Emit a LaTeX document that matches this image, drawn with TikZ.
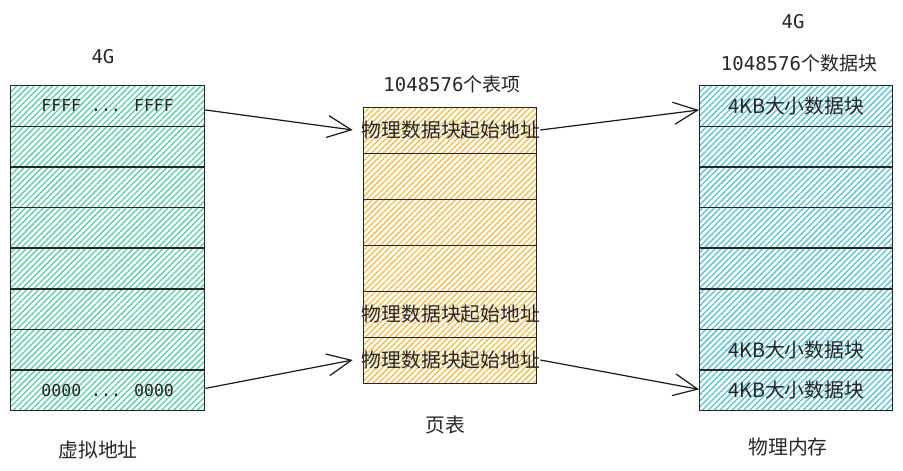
\documentclass[tikz,border=0pt]{standalone}
\usepackage{fontspec}
\setmainfont{DejaVu Sans Mono}
\newfontfamily\cjk{Noto Sans CJK SC}
\newfontfamily\mono{DejaVu Sans Mono}
\usetikzlibrary{patterns.meta,arrows.meta}
\definecolor{hgreen}{RGB}{90,205,168}
\definecolor{horange}{RGB}{247,188,72}
\definecolor{hcyan}{RGB}{85,193,212}
\tikzset{
  cell/.style={draw=black!85,line width=1.4pt,rectangle,inner sep=0pt,anchor=north west},
  lcell/.style={cell,minimum width=194pt,minimum height=40.6pt,pattern={Lines[angle=45,distance=4.2pt,line width=1.3pt]},pattern color=hgreen},
  mcell/.style={cell,minimum width=173pt,minimum height=46pt,pattern={Lines[angle=45,distance=4.2pt,line width=1.3pt]},pattern color=horange},
  rcell/.style={cell,minimum width=193pt,minimum height=40.6pt,pattern={Lines[angle=45,distance=4.2pt,line width=1.3pt]},pattern color=hcyan},
  lab/.style={inner sep=0pt,text=black!85,font=\fontsize{19}{22}\selectfont},
  cjklab/.style={inner sep=0pt,text=black!85,font=\fontsize{19.8}{23}\selectfont},
  hexlab/.style={inner sep=0pt,text=black!85,font=\fontsize{16.5}{20}\selectfont\mono},
  arr/.style={draw=black!90,line width=1.2pt,-{Straight Barb[length=24pt,width=22pt,line width=1.2pt]}}
}
\begin{document}
\begin{tikzpicture}[x=1pt,y=-1pt]
\useasboundingbox (0,0) rectangle (903,471);
% left column
\foreach \i in {1,...,8} {
  \node[lcell] (L\i) at (10,{85+(\i-1)*40.625}) {};
}
% middle column
\foreach \i in {1,...,6} {
  \node[mcell] (M\i) at (363,{107+(\i-1)*46}) {};
}
% right column
\foreach \i in {1,...,8} {
  \node[rcell] (R\i) at (699,{85+(\i-1)*40.625}) {};
}
% left texts
\node[lab] (lg) at (103,57) {\mono 4G};
\node[hexlab] (lt1) at (L1.center) {FFFF ... FFFF};
\node[hexlab] (lt8) at (L8.center) {0000 ... 0000};
\node[cjklab] (lname) at (98,450) {\cjk 虚拟地址};
% middle texts
\node[lab] (mtitle) at (452,84) {{\mono 1048576}{\cjk 个表项}};
\node[cjklab] (T1) at (451,130) {\cjk 物理数据块起始地址};
\node[cjklab] (T5) at (451,314) {\cjk 物理数据块起始地址};
\node[cjklab] (T6) at (451,360) {\cjk 物理数据块起始地址};
\node[cjklab] (mname) at (445,425) {\cjk 页表};
% right texts
\node[lab] (rg) at (793,22) {\mono 4G};
\node[lab] (rtitle) at (799,63) {{\mono 1048576}{\cjk 个数据块}};
\node[cjklab] (rt1) at (R1.center) {{\cjk 4KB大小数据块}};
\node[cjklab] (rt7) at (R7.center) {{\cjk 4KB大小数据块}};
\node[cjklab] (rt8) at (R8.center) {{\cjk 4KB大小数据块}};
\node[cjklab] (rname) at (788,447) {\cjk 物理内存};
% arrows
\draw[arr] ([yshift=-4pt]L1.east) -- ([xshift=-9pt]T1.west);
\draw[arr] ([yshift=2pt]L8.east) -- ([xshift=-9pt]T6.west);
\draw[arr] (T1.east) -- ([yshift=-4pt]R1.west);
\draw[arr] (T6.east) -- ([yshift=1pt]R8.west);
\end{tikzpicture}
\end{document}
